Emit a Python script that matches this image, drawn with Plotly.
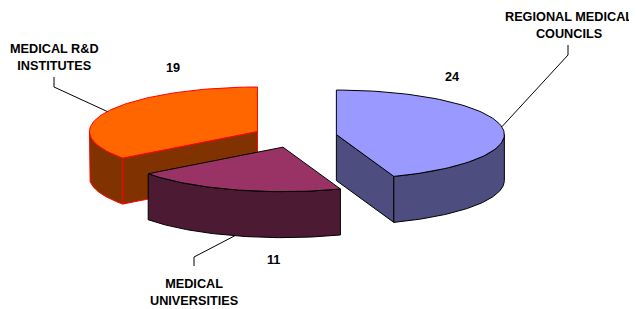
import math
import plotly.graph_objects as go

# ---- data ----
categories = ["REGIONAL MEDICAL<br>COUNCILS", "MEDICAL<br>UNIVERSITIES", "MEDICAL R&D<br>INSTITUTES"]
values = [24, 11, 19]
top_colors = ["#9999FF", "#993366", "#FF6600"]
side_colors = ["#4D4D80", "#4D1A33", "#803300"]
edge_colors = ["#000000", "#000000", "#FF0000"]

# ---- geometry (styles) ----
W, H = 637, 309
PAGE_OFF = 8             # default body margin of the page
CX, CY = 295, 136.5      # pie centre on screen
RX, RY = 168, 44.5       # ellipse radii
DEPTH = 46               # thickness
EXPLODE = 0.25           # explosion as a fraction of the radius
NPTS = 80

# label placement (category label centre, elbow start, value label centre)
cat_pos = [(569, 25), (194, 292), (54, 57)]
elbow = [((568, 45), (568, 55)), ((194, 266), (194, 257)), ((54, 77), (54, 87))]
val_pos = [(452, 77), (273, 260), (173, 68)]

total = sum(values)
slices = []
a = 0.0
for i, v in enumerate(values):
    span = 2 * math.pi * v / total
    a0, a1 = a, a + span
    mid = (a0 + a1) / 2
    cx = CX + EXPLODE * RX * math.sin(mid)
    cy = CY - EXPLODE * RY * math.cos(mid)
    slices.append(dict(i=i, a0=a0, a1=a1, mid=mid, cx=cx, cy=cy))
    a = a1


def pt(s, th, z=0.0):
    return (s["cx"] + RX * math.sin(th), s["cy"] - RY * math.cos(th) + z)


def arc(s, t0, t1, z=0.0, n=NPTS):
    return [pt(s, t0 + (t1 - t0) * k / n, z) for k in range(n + 1)]


fig = go.Figure()


def poly(points, fill, line):
    xs = [p[0] for p in points] + [points[0][0]]
    ys = [p[1] for p in points] + [points[0][1]]
    fig.add_trace(go.Scatter(x=xs, y=ys, mode="lines", fill="toself",
                             fillcolor=fill, line=dict(color=line, width=1),
                             hoverinfo="skip", showlegend=False))


for s in sorted(slices, key=lambda q: q["cy"]):
    i = s["i"]
    c_top = (s["cx"], s["cy"])
    c_bot = (s["cx"], s["cy"] + DEPTH)
    # radial faces
    for th, ndir in ((s["a0"], s["a0"] - math.pi / 2), (s["a1"], s["a1"] + math.pi / 2)):
        if math.cos(ndir) < -1e-6:
            poly([c_top, pt(s, th), pt(s, th, DEPTH), c_bot], side_colors[i], edge_colors[i])
    # outer wall (front half only)
    w0 = max(s["a0"], math.pi / 2)
    w1 = min(s["a1"], 3 * math.pi / 2)
    if w1 > w0:
        top = arc(s, w0, w1)
        bot = arc(s, w1, w0, DEPTH)
        poly(top + bot, side_colors[i], edge_colors[i])
    # top face
    poly([c_top] + arc(s, s["a0"], s["a1"]), top_colors[i], edge_colors[i])

# leader lines
for s in slices:
    i = s["i"]
    if math.cos(s["mid"]) < 0:
        attach = pt(s, s["mid"], DEPTH)
    else:
        attach = pt(s, s["mid"])
    (x0, y0), (x1, y1) = elbow[i]
    fig.add_trace(go.Scatter(x=[x0, x1, attach[0]], y=[y0, y1, attach[1]], mode="lines",
                             line=dict(color="#000000", width=1),
                             hoverinfo="skip", showlegend=False))

font = dict(family="Arial, Liberation Sans, sans-serif", size=12.7, color="#000000", weight="bold")
for i in range(len(values)):
    fig.add_annotation(x=cat_pos[i][0], y=cat_pos[i][1], text=categories[i], showarrow=False,
                       font=font, align="center", xanchor="center", yanchor="middle")
    fig.add_annotation(x=val_pos[i][0], y=val_pos[i][1], text=str(values[i]), showarrow=False,
                       font=font, xanchor="center", yanchor="middle")

fig.update_layout(
    width=W - PAGE_OFF, height=H - PAGE_OFF, autosize=False,
    margin=dict(l=0, r=0, t=0, b=0),
    paper_bgcolor="white", plot_bgcolor="white",
    xaxis=dict(range=[PAGE_OFF, W], visible=False, fixedrange=True),
    yaxis=dict(range=[H, PAGE_OFF], visible=False, fixedrange=True),
)
fig.write_html("out.html")
